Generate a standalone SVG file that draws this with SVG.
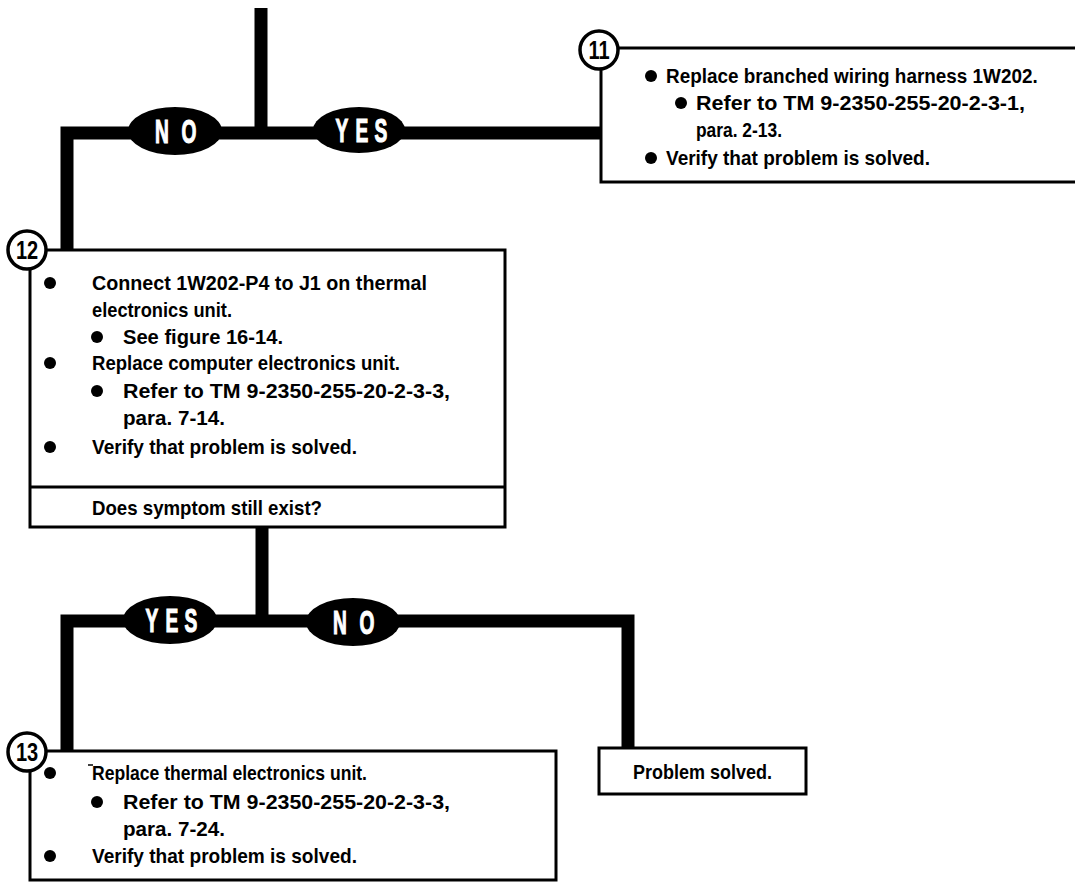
<svg xmlns="http://www.w3.org/2000/svg" width="1075" height="883" viewBox="0 0 1075 883">
  <style>
    .wire { fill: none; stroke: #000; stroke-width: 13; stroke-linejoin: miter; stroke-linecap: butt; }
    .box { fill: #fff; stroke: #000; stroke-width: 3; }
    .rule { stroke: #000; stroke-width: 3; }
    .num circle { fill: #fff; stroke: #000; stroke-width: 3.5; }
    .num text { font-family: "Liberation Sans", Arial, sans-serif; font-weight: bold; font-size: 25px; text-anchor: middle; fill: #000; }
    .t { font-family: "Liberation Sans", Arial, sans-serif; font-weight: bold; font-size: 21px; fill: #000; }
    .dot { fill: #000; }
    .tag ellipse { fill: #000; }
    .tag text { font-family: "Liberation Sans", Arial, sans-serif; font-weight: bold; font-size: 33px; fill: #fff; stroke: #fff; stroke-width: 1.2; text-anchor: middle; }
  </style>

  <!-- connectors -->
  <g id="connectors">
    <path class="wire" d="M261,8 V133"/>
    <path class="wire" d="M67,250 V133 H601"/>
    <path class="wire" d="M262,527 V621"/>
    <path class="wire" d="M67,751 V621 H628 V748"/>
    <!-- branch labels: each letter condensed and spaced -->
    <g class="tag">
      <ellipse cx="175" cy="131" rx="47" ry="24"/>
      <text transform="translate(162,143) scale(0.58,1)">N</text>
      <text transform="translate(189,143) scale(0.58,1)">O</text>
      <ellipse cx="359" cy="130" rx="46" ry="23"/>
      <text transform="translate(342,142) scale(0.58,1)">Y</text>
      <text transform="translate(362,142) scale(0.58,1)">E</text>
      <text transform="translate(381,142) scale(0.58,1)">S</text>
      <ellipse cx="170" cy="620" rx="47" ry="24"/>
      <text transform="translate(152,632) scale(0.58,1)">Y</text>
      <text transform="translate(172,632) scale(0.58,1)">E</text>
      <text transform="translate(191,632) scale(0.58,1)">S</text>
      <ellipse cx="353" cy="622" rx="47" ry="24"/>
      <text transform="translate(340,634) scale(0.58,1)">N</text>
      <text transform="translate(367,634) scale(0.58,1)">O</text>
    </g>
  </g>

  <!-- step 11 -->
  <g id="step11">
    <rect class="box" x="601" y="48" width="480" height="134"/>
    <circle class="dot" cx="651" cy="76" r="6"/>
    <text class="t" transform="translate(666,83) scale(0.9,1)">Replace branched wiring harness 1W202.</text>
    <circle class="dot" cx="681" cy="103" r="6"/>
    <text class="t" x="696" y="110" textLength="329" lengthAdjust="spacingAndGlyphs">Refer to TM 9-2350-255-20-2-3-1,</text>
    <text class="t" x="696" y="137" textLength="86" lengthAdjust="spacingAndGlyphs">para. 2-13.</text>
    <circle class="dot" cx="651" cy="158" r="6"/>
    <text class="t" x="666" y="165" textLength="264" lengthAdjust="spacingAndGlyphs">Verify that problem is solved.</text>
    <g class="num">
      <circle cx="599" cy="50" r="19"/>
      <text transform="translate(599,59) scale(0.8,1)">11</text>
    </g>
  </g>

  <!-- step 12 -->
  <g id="step12">
    <rect class="box" x="30" y="250" width="475" height="277"/>
    <line class="rule" x1="30" y1="487" x2="505" y2="487"/>
    <circle class="dot" cx="50" cy="283" r="6"/>
    <text class="t" x="92" y="290" textLength="335" lengthAdjust="spacingAndGlyphs">Connect 1W202-P4 to J1 on thermal</text>
    <text class="t" x="92" y="317" textLength="140" lengthAdjust="spacingAndGlyphs">electronics unit.</text>
    <circle class="dot" cx="97" cy="337" r="6"/>
    <text class="t" x="123" y="344" textLength="160" lengthAdjust="spacingAndGlyphs">See figure 16-14.</text>
    <circle class="dot" cx="50" cy="363" r="6"/>
    <text class="t" x="92" y="370" textLength="308" lengthAdjust="spacingAndGlyphs">Replace computer electronics unit.</text>
    <circle class="dot" cx="97" cy="391" r="6"/>
    <text class="t" x="123" y="398" textLength="327" lengthAdjust="spacingAndGlyphs">Refer to TM 9-2350-255-20-2-3-3,</text>
    <text class="t" x="123" y="425" textLength="102" lengthAdjust="spacingAndGlyphs">para. 7-14.</text>
    <circle class="dot" cx="50" cy="447" r="6"/>
    <text class="t" x="92" y="454" textLength="265" lengthAdjust="spacingAndGlyphs">Verify that problem is solved.</text>
    <text class="t" x="92" y="515" textLength="230" lengthAdjust="spacingAndGlyphs">Does symptom still exist?</text>
    <g class="num">
      <circle cx="27" cy="250" r="19"/>
      <text transform="translate(27,259) scale(0.8,1)">12</text>
    </g>
  </g>

  <!-- step 13 -->
  <g id="step13">
    <rect class="box" x="30" y="751" width="526" height="129"/>
    <line class="rule" x1="88" y1="765" x2="93" y2="765" style="stroke-width:1.5"/>
    <circle class="dot" cx="50" cy="773" r="6"/>
    <text class="t" x="92" y="780" textLength="275" lengthAdjust="spacingAndGlyphs">Replace thermal electronics unit.</text>
    <circle class="dot" cx="97" cy="802" r="6"/>
    <text class="t" x="123" y="809" textLength="327" lengthAdjust="spacingAndGlyphs">Refer to TM 9-2350-255-20-2-3-3,</text>
    <text class="t" x="123" y="836" textLength="102" lengthAdjust="spacingAndGlyphs">para. 7-24.</text>
    <circle class="dot" cx="50" cy="856" r="6"/>
    <text class="t" x="92" y="863" textLength="265" lengthAdjust="spacingAndGlyphs">Verify that problem is solved.</text>
    <g class="num">
      <circle cx="27" cy="752" r="19"/>
      <text transform="translate(27,761) scale(0.8,1)">13</text>
    </g>
  </g>

  <!-- end state -->
  <g id="solved">
    <rect class="box" x="599" y="748" width="207" height="46"/>
    <text class="t" x="633" y="779" textLength="139" lengthAdjust="spacingAndGlyphs">Problem solved.</text>
  </g>
</svg>
